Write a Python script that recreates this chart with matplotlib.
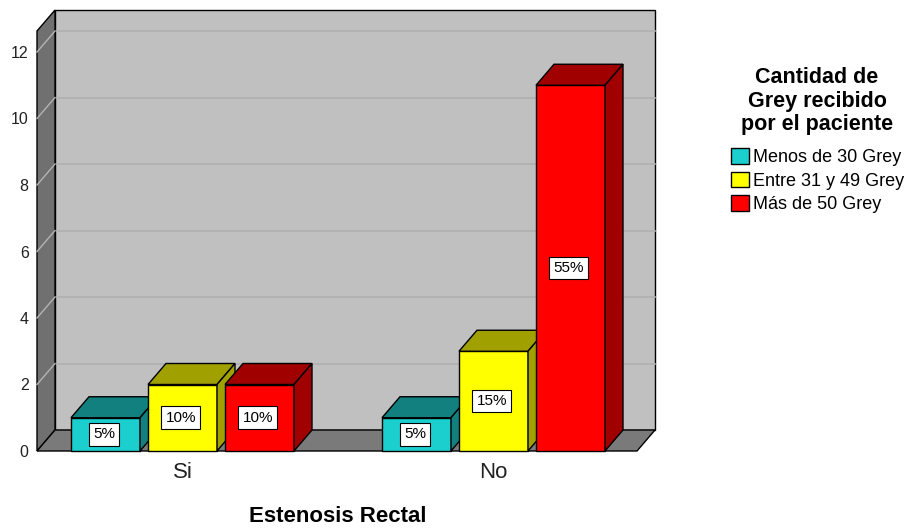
import matplotlib
matplotlib.use("Agg")
import matplotlib.pyplot as plt
from matplotlib.patches import Polygon, Patch

plt.rcParams['font.family'] = ['Liberation Sans', 'DejaVu Sans']

# datos: recuento de pacientes por grupo
categorias = ['Si', 'No']
series = ['Menos de 30 Grey', 'Entre 31 y 49 Grey', 'Más de 50 Grey']
menos_30 = [1, 1]
entre_31_49 = [2, 3]
mas_50 = [2, 11]
yticks = [0, 2, 4, 6, 8, 10, 12]

valores = [menos_30, entre_31_49, mas_50]
total = sum(sum(v) for v in valores)

# colores: frente, techo/lateral
frente = ['#1ccfcf', '#ffff00', '#ff0000']
sombra = ['#138080', '#a0a000', '#a00000']

fig = plt.figure(figsize=(9.06, 5.29), dpi=100)
W, H = 906, 529
ax = fig.add_axes([37 / W, (H - 451) / H, (655 - 37) / W, (451 - 10) / H])

px_x = 311.0     # pixeles por unidad de categoria
px_y = 33.25     # pixeles por unidad de recuento
xmin = (37 - 182.5) / px_x
xmax = (655 - 182.5) / px_x
ymax = 441 / px_y
ax.set_xlim(xmin, xmax)
ax.set_ylim(0, ymax)

DX = 18 / px_x   # profundidad en x
DY = 21 / px_y   # profundidad en y
xfront = xmax - DX
ytop = ymax - DY


def poly(pts, fc, z, lw=1.0):
    p = Polygon(pts, closed=True, facecolor=fc, edgecolor='black', lw=lw,
                zorder=z, clip_on=False, joinstyle='miter')
    ax.add_patch(p)


# pared del fondo, pared izquierda y suelo
poly([(xmin + DX, DY), (xmax, DY), (xmax, ymax), (xmin + DX, ymax)], '#c0c0c0', 1)
for t in yticks[1:]:
    ax.plot([xmin + DX, xmax], [t + DY, t + DY], color='#b0b0b0', lw=1.2, zorder=1.5,
            clip_on=False)
poly([(xmin, 0), (xmin + DX, DY), (xmin + DX, ymax), (xmin, ytop)], '#707070', 2)
for t in yticks[1:]:
    ax.plot([xmin, xmin + DX], [t, t + DY], color='#b4b4b4', lw=1.0, zorder=2.5,
            clip_on=False)
poly([(xmin, 0), (xfront, 0), (xmax, DY), (xmin + DX, DY)], '#7a7a7a', 3)

# barras 3D
ancho = 69 / px_x
paso = 77 / px_x
z = 10
for g in range(len(categorias)):
    for s in range(len(series)):
        v = valores[s][g]
        xc = g + (s - 1) * paso
        x0, x1 = xc - ancho / 2, xc + ancho / 2
        ax.bar(xc, v, width=ancho, color=frente[s], edgecolor='black', lw=1.0,
               zorder=z, clip_on=False)
        poly([(x0, v), (x1, v), (x1 + DX, v + DY), (x0 + DX, v + DY)], sombra[s], z)
        poly([(x1, 0), (x1 + DX, DY), (x1 + DX, v + DY), (x1, v)], sombra[s], z)
        pct = round(100 * v / total)
        ax.text(xc - 0.005, v / 2, f'{pct}%', ha='center', va='center', fontsize=11,
                zorder=z + 0.5,
                bbox=dict(boxstyle='square,pad=0.28', fc='white', ec='black', lw=0.8))
        z += 1

ax.set_yticks(yticks)
ax.set_yticklabels([str(t) for t in yticks], fontsize=11.5, color='#222222')
ax.set_xticks(range(len(categorias)))
ax.set_xticklabels(categorias, fontsize=16, color='#222222')
ax.tick_params(axis='y', length=0, pad=6)
ax.tick_params(axis='x', length=0, pad=8)
for sp in ax.spines.values():
    sp.set_visible(False)
ax.patch.set_visible(False)

fig.text(338 / W, 1 - 517 / H, 'Estenosis Rectal', ha='center', va='center',
         fontsize=16, fontweight='bold')

# leyenda: titulo aparte y entradas debajo
fig.text(817 / W, 1 - 101 / H, 'Cantidad de\nGrey recibido\npor el paciente',
         ha='center', va='center', fontsize=15.5, fontweight='bold', linespacing=1.13,
         multialignment='center')
handles = [Patch(facecolor=frente[i], edgecolor='black', lw=1.0) for i in range(3)]
fig.legend(handles, series, loc='upper left', bbox_to_anchor=(726 / W, 1 - 143 / H),
           frameon=False, fontsize=13, handlelength=0.95, handleheight=0.95,
           handletextpad=0.25, labelspacing=0.3, borderpad=0.3, borderaxespad=0)

fig.savefig('out.png', dpi=100)
